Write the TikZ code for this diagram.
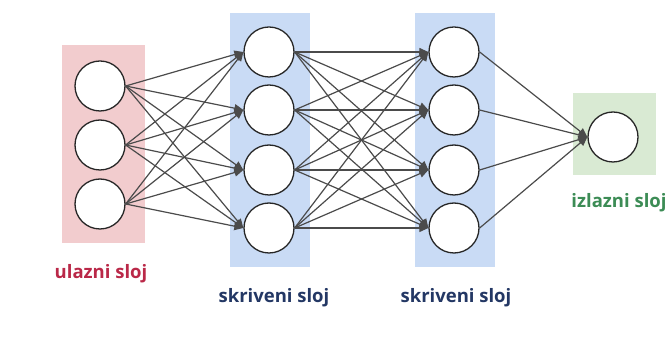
\documentclass[tikz,border=0pt]{standalone}
\usepackage{fontspec}
\setmainfont{Open Sans}
\usetikzlibrary{arrows.meta}
\definecolor{pinkbg}{RGB}{242,204,206}
\definecolor{bluebg}{RGB}{201,219,245}
\definecolor{greenbg}{RGB}{217,234,211}
\definecolor{redtxt}{RGB}{186,40,72}
\definecolor{bluetxt}{RGB}{35,55,100}
\definecolor{greentxt}{RGB}{60,140,85}
\definecolor{linegray}{RGB}{75,75,75}
\tikzset{
  neuron/.style={circle, draw=black!85, line width=1.3pt, fill=white, minimum size=50pt, inner sep=0pt},
  conn/.style={draw=linegray, line width=1.2pt, -{Triangle[length=9pt,width=8pt]}},
  lbl/.style={font=\fontsize{18.5}{22}\selectfont\bfseries}
}
\begin{document}
\begin{tikzpicture}[x=1pt,y=-1pt]
\useasboundingbox[fill=white] (0,0) rectangle (667,344);
% backgrounds
\fill[pinkbg] (62,45) rectangle (145,243);
\fill[bluebg] (230,13) rectangle (310,267);
\fill[bluebg] (415,13) rectangle (495,267);
\fill[greenbg] (573,93) rectangle (656,175);
% input
\node[neuron] (i1) at (100,86) {};
\node[neuron] (i2) at (100,145) {};
\node[neuron] (i3) at (100,204) {};
% hidden 1
\node[neuron] (a1) at (269,52) {};
\node[neuron] (a2) at (269,110) {};
\node[neuron] (a3) at (269,170) {};
\node[neuron] (a4) at (269,228) {};
% hidden 2
\node[neuron] (b1) at (454,52) {};
\node[neuron] (b2) at (454,110) {};
\node[neuron] (b3) at (454,170) {};
\node[neuron] (b4) at (454,228) {};
% output
\node[neuron] (o) at (613,137) {};
% connections
\foreach \s in {i1,i2,i3}{\foreach \t in {a1,a2,a3,a4}{\draw[conn] (\s.east) -- (\t.west);}}
\foreach \s in {a1,a2,a3,a4}{\foreach \t in {b1,b2,b3,b4}{\draw[conn] (\s.east) -- (\t.west);}}
\foreach \s in {b1,b2,b3,b4}{\draw[conn] (\s.east) -- (o.west);}
% labels
\node[lbl, text=redtxt] (l1) at (101,274) {ulazni sloj};
\node[lbl, text=bluetxt] (l2) at (274,298) {skriveni sloj};
\node[lbl, text=bluetxt] (l3) at (456,298) {skriveni sloj};
\node[lbl, text=greentxt] (l4) at (619,203) {izlazni sloj};
\end{tikzpicture}
\end{document}
